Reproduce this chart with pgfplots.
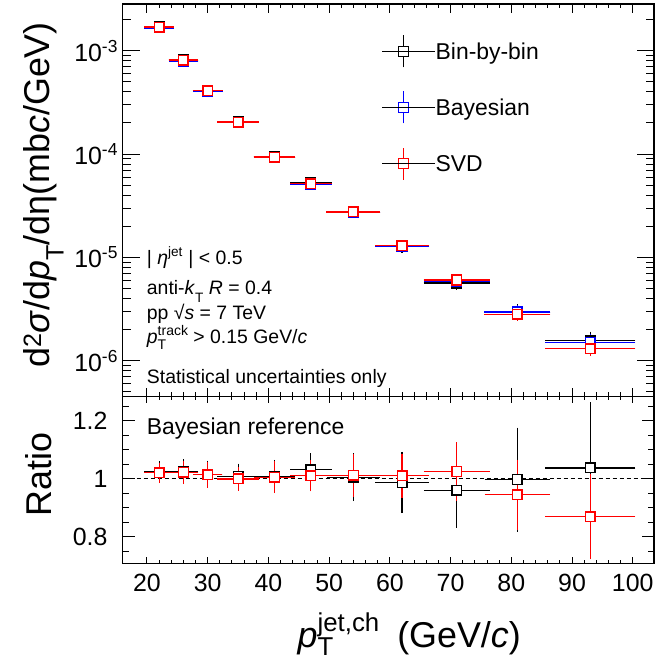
\documentclass[border=0pt]{standalone}
\usepackage{fontspec}
\setmainfont{Liberation Sans}
\usepackage{pgfplots}
\usepackage{pgfplotstable}
\pgfplotsset{compat=1.18}
\newcommand{\fs}[1]{\fontsize{#1}{#1}\selectfont}
\newcommand{\supsub}[2]{\makebox[0pt][l]{\raisebox{-0.3em}{\scalebox{0.72}{#2}}}\raisebox{0.42em}{\scalebox{0.72}{#1}}}
\newcommand{\xsupsub}[2]{\makebox[0pt][l]{\raisebox{-0.24em}{\scalebox{0.72}{#2}}}\raisebox{0.45em}{\scalebox{0.72}{#1}}}
\newcommand{\sub}[1]{\raisebox{-0.38em}{\scalebox{0.7}{#1}}}

\pgfplotstableread{
x ex y ey
22 2 1.698e-3 3.4e-5
26 2 8.15e-4 1.9e-5
30 2 4.115e-4 1.1e-5
35 3 2.056e-4 5.1e-6
41 3 9.37e-5 3.2e-6
47 3 5.29e-5 1.85e-6
54 4 2.744e-5 1.43e-6
62 4 1.273e-5 8.7e-7
71 5 5.66e-6 4.8e-7
81 5 2.97e-6 3.6e-7
93 7 1.566e-6 2.4e-7
}\blackup
\pgfplotstableread{
x ex y ey
22 2 1.66e-3 3.3e-5
26 2 7.95e-4 1.8e-5
30 2 4.05e-4 1.0e-5
35 3 2.04e-4 5.0e-6
41 3 9.3e-5 3.0e-6
47 3 5.13e-5 1.7e-6
54 4 2.73e-5 1.3e-6
62 4 1.29e-5 7.5e-7
71 5 5.9e-6 4.5e-7
81 5 2.98e-6 3.2e-7
93 7 1.51e-6 2.0e-7
}\blueup
\pgfplotstableread{
x ex y ey
22 2 1.693e-3 3.2e-5
26 2 8.12e-4 1.8e-5
30 2 4.11e-4 1.0e-5
35 3 2.038e-4 4.6e-6
41 3 9.35e-5 3.0e-6
47 3 5.18e-5 1.6e-6
54 4 2.763e-5 1.3e-6
62 4 1.303e-5 6.2e-7
71 5 6.05e-6 3.9e-7
81 5 2.82e-6 2.2e-7
93 7 1.311e-6 1.3e-7
}\redup
\pgfplotstableread{
x ex y ey
22 2 1.023 0.028
26 2 1.025 0.033
30 2 1.016 0.038
35 3 1.008 0.035
41 3 1.008 0.048
47 3 1.031 0.049
54 4 1.005 0.074
62 4 0.987 0.097
71 5 0.960 0.120
81 5 0.997 0.171
93 7 1.037 0.218
}\blackratio
\pgfplotstableread{
x ex y ey
22 2 1.020 0.027
26 2 1.022 0.032
30 2 1.014 0.036
35 3 0.999 0.032
41 3 1.005 0.046
47 3 1.010 0.045
54 4 1.012 0.066
62 4 1.010 0.068
71 5 1.025 0.093
81 5 0.945 0.112
93 7 0.868 0.138
}\redratio

\pgfplotsset{
  rootaxis/.style={
    scale only axis, width=531.3bp,
    xmin=16, xmax=103.5,
    xtick={20,30,...,100}, minor x tick num=4,
    tick align=inside,
    axis line style={line width=1.2bp},
    every tick/.style={black, line width=1bp},
    /pgf/number format/assume math mode=true,
    tick label style={font=\fs{25}},
  },
  upser/.style={only marks, line width=1.5bp, mark=square*, mark size=4.8bp,
    mark options={fill=white, solid},
    error bars/.cd, x dir=both, x explicit, y dir=both, y explicit,
    error bar style={line width=1.5bp},
    error mark options={line width=1.5bp, mark size=2.7bp},
    /pgfplots/.cd},
  loser/.style={only marks, line width=1.1bp, mark=square*, mark size=4.8bp,
    mark options={fill=white, solid, line width=1.4bp},
    error bars/.cd, x dir=both, x explicit, y dir=both, y explicit,
    error bar style={line width=1.1bp},
    error mark options={line width=1.1bp, mark size=2.5bp},
    /pgfplots/.cd},
  ebarleg/.style={legend image code/.code={
    \draw[#1, line width=1.1bp] (0bp,8.3bp)--(42bp,8.3bp) (21bp,-7.7bp)--(21bp,24.3bp);
    \draw[#1, line width=1.1bp, fill=white] (16bp,3.3bp) rectangle (26bp,13.3bp);
    \path (0bp,8.3bp) -- (53bp,8.3bp);}},
}

\begin{document}
\begin{tikzpicture}
\useasboundingbox (-122.7bp,-97.7bp) rectangle (532.3bp,563.3bp);
% lower panel
\begin{axis}[rootaxis, at={(0bp,0bp)}, anchor=south west,
  height=166.6bp, ymin=0.708, ymax=1.283,
  ytick={0.8,1,1.2}, yticklabels={0.8,1,1.2},
  minor ytick={0.75,0.85,0.9,0.95,1.05,1.1,1.15,1.25},
  xtick style={/pgfplots/major tick length=6.5bp,/pgfplots/minor tick length=3.3bp},
  ytick style={/pgfplots/major tick length=12bp,/pgfplots/minor tick length=6bp},
  yticklabel style={inner sep=0pt, xshift=-15bp},
  xticklabel style={inner sep=0pt, yshift=-10.5bp},
]
\addplot[black, line width=1bp, dash pattern=on 4bp off 3bp] coordinates {(16,1) (103.5,1)};
\addplot[forget plot, black, loser] table[x=x, y=y, x error=ex, y error=ey] {\blackratio};
\addplot[forget plot, red, loser] table[x=x, y=y, x error=ex, y error=ey] {\redratio};
\node[anchor=base west, font=\fs{23}, inner sep=0pt] at (axis description cs:0.0452,0.776) {Bayesian reference};
\end{axis}
% upper panel
\begin{axis}[rootaxis, at={(0bp,166.6bp)}, anchor=south west,
  height=392.7bp, ymode=log, ymin=4.5e-7, ymax=2.83e-3,
  xticklabels={},
  ytick={1e-6,1e-5,1e-4,1e-3},
  yticklabels={10\textsuperscript{-6},10\textsuperscript{-5},10\textsuperscript{-4},10\textsuperscript{-3}},
  minor ytick={5e-7,6e-7,7e-7,8e-7,9e-7,2e-6,3e-6,4e-6,5e-6,6e-6,7e-6,8e-6,9e-6,2e-5,3e-5,4e-5,5e-5,6e-5,7e-5,8e-5,9e-5,2e-4,3e-4,4e-4,5e-4,6e-4,7e-4,8e-4,9e-4,2e-3},
  xtick style={/pgfplots/major tick length=9bp,/pgfplots/minor tick length=4.5bp},
  ytick style={/pgfplots/major tick length=17bp,/pgfplots/minor tick length=8bp},
  yticklabel style={inner sep=0pt, xshift=-4.5bp},
  legend style={at={(0.4875,0.922)}, anchor=north west, draw=none, fill=none,
    inner sep=0pt, row sep=23bp, column sep=0bp, font=\fs{23},
    nodes={inner sep=0pt, anchor=base west}},
  legend cell align=left,
]
\addplot[forget plot, black, upser] table[x=x, y=y, x error=ex, y error=ey] {\blackup};
\addplot[forget plot, blue, upser] table[x=x, y=y, x error=ex, y error=ey] {\blueup};
\addplot[forget plot, red, upser] table[x=x, y=y, x error=ex, y error=ey] {\redup};
\addlegendimage{ebarleg=black}
\addlegendentry{Bin-by-bin}
\addlegendimage{ebarleg=blue}
\addlegendentry{Bayesian}
\addlegendimage{ebarleg=red}
\addlegendentry{SVD}
\end{axis}
% annotations (picture coordinates, bp)
\begin{scope}[every node/.style={anchor=base west, inner sep=0pt, font=\fs{19.5}}]
\node at (24bp,299bp) {| \textit{η}\textsuperscript{jet} | < 0.5};
\node at (24bp,268.3bp) {anti-\textit{k}\sub{T} \textit{R} = 0.4};
\node at (24bp,244bp) {pp √\textit{s} = 7 TeV};
\node at (24bp,220bp) {\textit{p}\supsub{track}{T} > 0.15 GeV/\textit{c}};
\node at (24bp,180bp) {Statistical uncertainties only};
\end{scope}
% axis titles
\node[rotate=90, anchor=base east, inner sep=0pt, font=\fs{36}] at (-72.7bp,541.3bp)
  {d\textsuperscript{2}\textit{σ}/d\textit{p}\sub{T}/dη(mb\textit{c}/GeV)};
\node[rotate=90, anchor=base east, inner sep=0pt, font=\fs{36}] at (-71bp,131bp) {Ratio};
\node[anchor=base east, inner sep=0pt, font=\fs{36}] at (398.3bp,-84bp)
  {\textit{p}\xsupsub{jet,ch}{T}\hspace{0.5em}(GeV/\textit{c})};
\end{tikzpicture}
\end{document}
